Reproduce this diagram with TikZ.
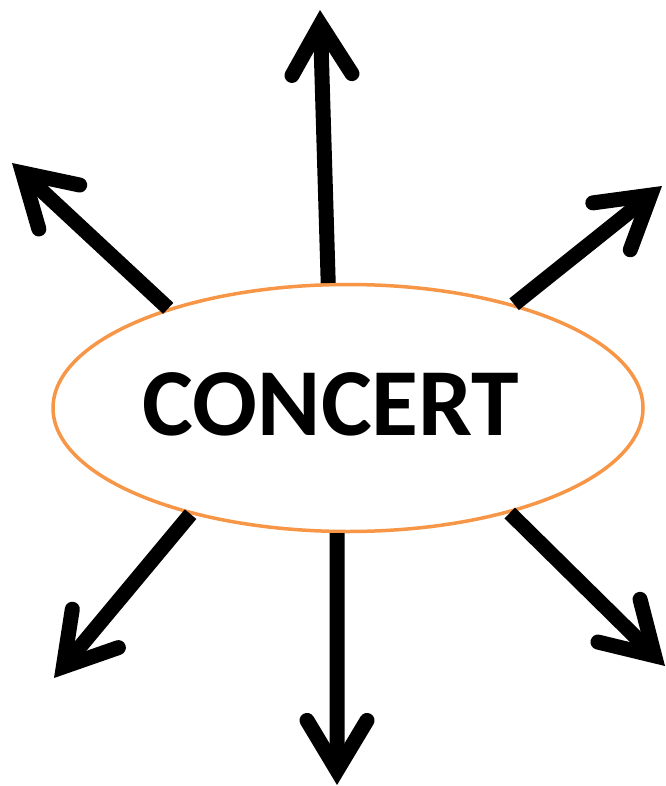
\documentclass[tikz,border=0pt]{standalone}
\usepackage{fontspec}
\setmainfont{Carlito}
\usetikzlibrary{shapes.geometric,arrows.meta}
\definecolor{orng}{HTML}{F79646}
\begin{document}
\begin{tikzpicture}[x=1pt,y=-1pt,
  arr/.style={line width=15pt, -{Straight Barb[length=50pt,width=60pt,line width=15pt,line cap=round,line join=miter]}},
  oval/.style={ellipse, draw=orng, line width=3.5pt, minimum width=590pt, minimum height=247pt, inner sep=0pt}]
\useasboundingbox (0,0) rectangle (665,786);
\node[oval] (c) at (348,408) {};
\node[font=\bfseries\fontsize{96}{96}\selectfont, inner sep=0pt] (t) at (331,404) {CONCERT};
\coordinate (tT) at (320,10);
\coordinate (tUL) at (12,163);
\coordinate (tUR) at (662,186);
\coordinate (tLL) at (54,678);
\coordinate (tB) at (337,785);
\coordinate (tLR) at (665,666);
\draw[arr] (c.99.4) -- (tT);
\draw[arr] (c.151) -- (tUL);
\draw[arr] (c.32.8) -- (tUR);
\draw[arr] (c.214) -- (tLL);
\draw[arr] (c.265.5) -- (tB);
\draw[arr] (c.327) -- (tLR);
\end{tikzpicture}
\end{document}
